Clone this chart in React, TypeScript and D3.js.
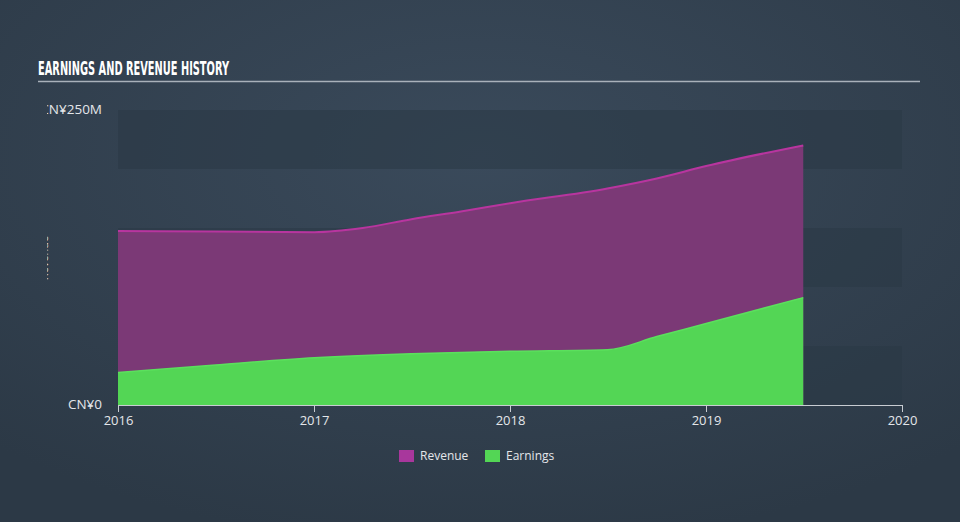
import React from "react";
import * as d3 from "d3";

const dates = ["2016-01-01", "2016-07-01", "2017-01-01", "2017-04-01", "2017-07-01", "2017-10-01", "2018-01-01", "2018-07-01", "2018-10-01", "2019-01-01", "2019-07-01"];
const revenue = [147.5, 147, 146.5, 150, 157.5, 164, 171, 183.5, 192, 202.5, 220];
const earningDates = ["2016-01-01", "2016-07-01", "2017-01-01", "2017-07-01", "2018-01-01", "2018-07-01", "2018-10-01", "2019-01-01", "2019-07-01"];
const earnings = [27.5, 34, 40, 43.5, 45.5, 46.8, 58, 69, 91];
const xTicks = ["2016", "2017", "2018", "2019", "2020"];
const yTicks = [0, 250];
const yLabels = ["CN¥0", "CN¥250M"];
const bands = [0, 100, 200];
const legend = [
  { name: "Revenue", color: "#a8379c" },
  { name: "Earnings", color: "#53d655" },
];

const W = 960;
const H = 522;
const left = 118;
const right = 902;
const top = 110;
const bottom = 405;

export default function App() {
  const parse = d3.timeParse("%Y-%m-%d");
  const x = d3
    .scaleTime()
    .domain([parse("2016-01-01")!, parse("2020-01-01")!])
    .range([left, right]);
  const y = d3.scaleLinear().domain([0, 250]).range([bottom, top]);

  const revData = dates.map((d, i) => ({ t: parse(d)!, v: revenue[i] }));
  const earnData = earningDates.map((d, i) => ({ t: parse(d)!, v: earnings[i] }));

  const area = d3
    .area<{ t: Date; v: number }>()
    .x((d) => x(d.t))
    .y0(y(0))
    .y1((d) => y(d.v))
    .curve(d3.curveMonotoneX);
  const line = d3
    .line<{ t: Date; v: number }>()
    .x((d) => x(d.t))
    .y((d) => y(d.v))
    .curve(d3.curveMonotoneX);

  const font = "'Open Sans', sans-serif";

  return (
    <svg
      width={W}
      height={H}
      style={{ position: "absolute", left: 0, top: 0, display: "block" }}
    >
      <defs>
        <radialGradient id="bg" cx="50%" cy="30%" r="75%">
          <stop offset="0%" stopColor="#3a4a5b" />
          <stop offset="100%" stopColor="#2c3946" />
        </radialGradient>
        <clipPath id="yclip">
          <rect x={47} y={0} width={100} height={H} />
        </clipPath>
      </defs>
      <rect x={0} y={0} width={W} height={H} fill="url(#bg)" />

      <text
        x={38}
        y={75}
        fill="#ffffff"
        fontFamily="'DejaVu Sans Condensed', 'Liberation Sans Narrow', sans-serif"
        fontWeight="bold"
        fontSize={20}
        textLength={191}
        lengthAdjust="spacingAndGlyphs"
      >
        EARNINGS AND REVENUE HISTORY
      </text>
      <line x1={38} x2={920} y1={81.5} y2={81.5} stroke="#a9b1ba" strokeWidth={1.5} />

      {bands.map((b) => (
        <rect
          key={b}
          x={left}
          width={right - left}
          y={y(b + 50)}
          height={y(b) - y(b + 50)}
          fill="#2a3846"
          opacity={0.55}
        />
      ))}

      <path d={area(revData) || ""} fill="#7b3976" />
      <path d={line(revData) || ""} fill="none" stroke="#b8359f" strokeWidth={2} />
      <path d={area(earnData) || ""} fill="#53d655" />
      <path d={line(earnData) || ""} fill="none" stroke="#5be05d" strokeWidth={1.5} />

      <line x1={left} x2={right} y1={bottom + 0.5} y2={bottom + 0.5} stroke="#c8ccd2" strokeWidth={1} />
      {xTicks.map((t) => {
        const xp = Math.round(x(parse(t + "-01-01")!)) + 0.5;
        return (
          <g key={t}>
            <line x1={xp} x2={xp} y1={bottom} y2={bottom + 7} stroke="#c8ccd2" strokeWidth={1} />
            <text
              x={xp}
              y={425}
              textAnchor="middle"
              fill="#e4e6ea"
              fontFamily={font}
              fontSize={13}
            >
              {t}
            </text>
          </g>
        );
      })}

      <g clipPath="url(#yclip)">
        {yTicks.map((v, i) => (
          <text
            key={v}
            x={102}
            y={y(v) + 4}
            textAnchor="end"
            fill="#e4e6ea"
            fontFamily={font}
            fontSize={13.5}
          >
            {yLabels[i]}
          </text>
        ))}
        <text
          transform={`translate(48, 258) rotate(-90)`}
          textAnchor="middle"
          fill="#d8dbe0"
          fontFamily={font}
          fontSize={11}
        >
          Revenue
        </text>
      </g>

      {legend.map((l, i) => {
        const lx = i === 0 ? 399 : 485;
        return (
          <g key={l.name}>
            <rect x={lx} y={450} width={15} height={12} fill={l.color} />
            <text x={lx + 21} y={460} fill="#e4e6ea" fontFamily={font} fontSize={12}>
              {l.name}
            </text>
          </g>
        );
      })}
    </svg>
  );
}
